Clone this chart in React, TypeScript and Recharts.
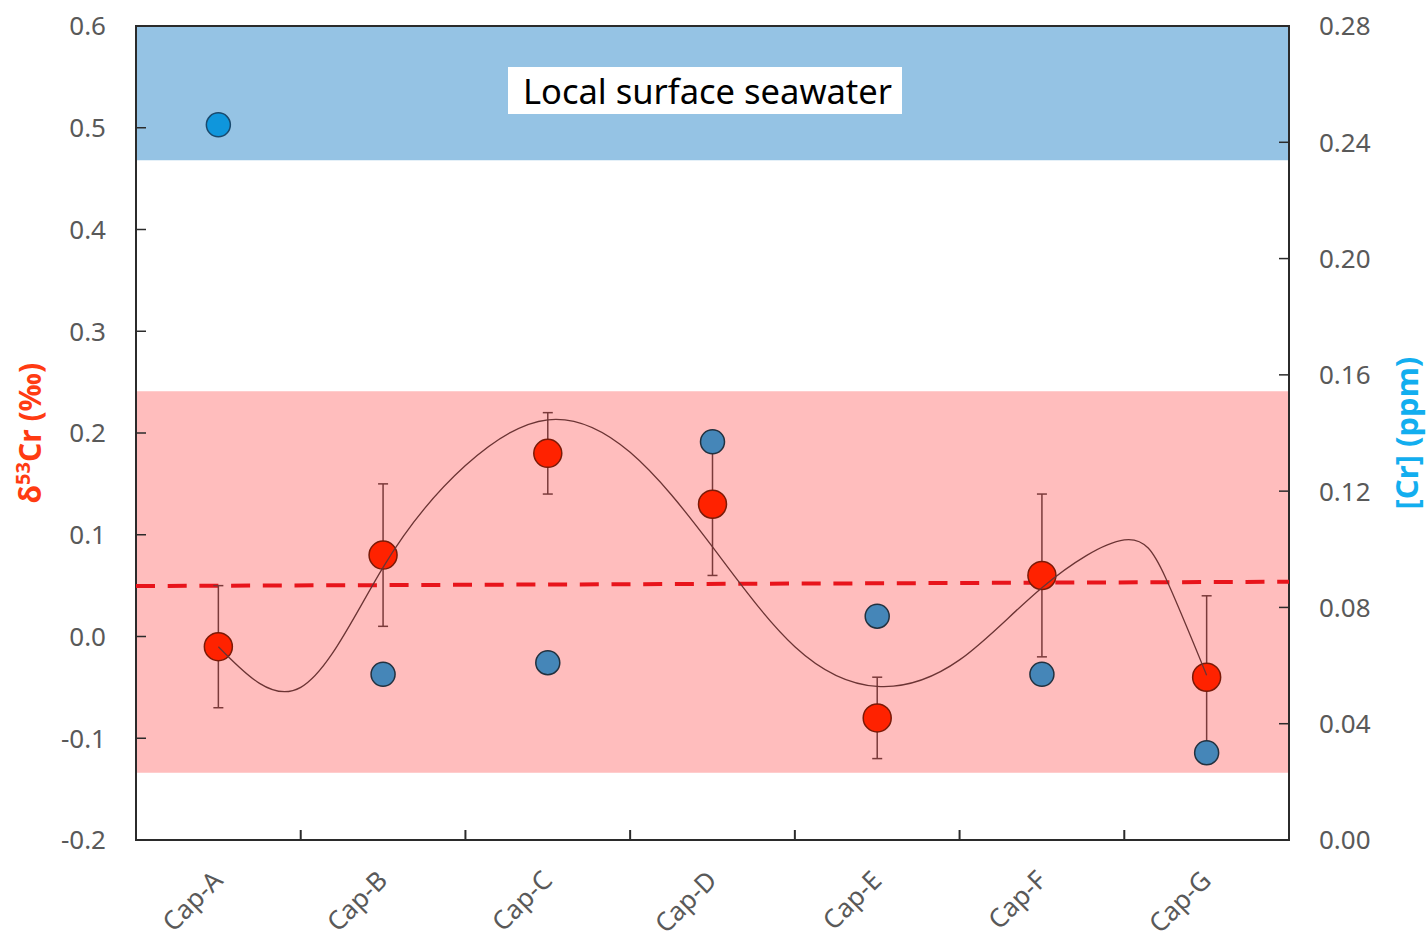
import React from 'react';
import { ComposedChart, Scatter, XAxis, YAxis, ErrorBar, ReferenceArea, ReferenceLine } from 'recharts';

// samples along the section
const samples = ['Cap-A', 'Cap-B', 'Cap-C', 'Cap-D', 'Cap-E', 'Cap-F', 'Cap-G'];
// δ53Cr (‰) with 2SD
const d53Cr = [-0.01, 0.08, 0.18, 0.13, -0.08, 0.06, -0.04];
const d53CrErr = [0.06, 0.07, 0.04, 0.07, 0.04, 0.08, 0.08];
// [Cr] ppm (right axis)
const crPpm = [0.246, 0.057, 0.061, 0.137, 0.077, 0.057, 0.03];
// smoothed trend
const fitPos = [0, 0.5, 1, 1.5, 2, 2.5, 3, 3.5, 4, 4.5, 5, 5.5, 5.75, 6];
const fitVal = [-0.01, -0.05, 0.068, 0.168, 0.213, 0.181, 0.088, -0.01, -0.049, -0.023, 0.048, 0.095, 0.058, -0.038];
// mean line (dashed), left and right ends
const meanLine = [0.0496, 0.0538];
// shaded ranges on the δ53Cr axis
const seawaterBand = [0.468, 0.6];
const sampleBand = [-0.134, 0.241];

const leftTicks = [-0.2, -0.1, 0, 0.1, 0.2, 0.3, 0.4, 0.5, 0.6];
const rightTicks = [0, 0.04, 0.08, 0.12, 0.16, 0.2, 0.24, 0.28];
const xTicks = [0, 0.5, 1, 1.5, 2, 2.5, 3, 3.5, 4, 4.5, 5, 5.5, 6];

const FONT = '"Noto Sans", sans-serif';
const GREY = '#595959';
const BOX = '#2b2b2b';

const redData = samples.map((s, i) => ({ x: i, y: d53Cr[i], err: d53CrErr[i] }));
const blueData = samples.map((s, i) => ({ x: i, y: crPpm[i], idx: i }));
const fitData = fitPos.map((p, i) => ({ x: p, y: fitVal[i] }));

const LeftTick = (p: any) => (
  <g>
    <line x1={p.x} y1={p.y} x2={p.x + 10} y2={p.y} stroke={BOX} strokeWidth={1.5} />
    <text x={p.x - 30} y={p.y} dy="0.36em" textAnchor="end" fontSize={26} fill={GREY} fontFamily={FONT}>
      {Number(p.payload.value).toFixed(1)}
    </text>
  </g>
);

const RightTick = (p: any) => (
  <g>
    <line x1={p.x} y1={p.y} x2={p.x - 10} y2={p.y} stroke={BOX} strokeWidth={1.5} />
    <text x={p.x + 30} y={p.y} dy="0.36em" textAnchor="start" fontSize={26} fill={GREY} fontFamily={FONT}>
      {Number(p.payload.value).toFixed(2)}
    </text>
  </g>
);

const BottomTick = (p: any) => {
  const v = p.payload.value;
  if (!Number.isInteger(v)) {
    return <line x1={p.x} y1={p.y} x2={p.x} y2={p.y - 10} stroke={BOX} strokeWidth={2} />;
  }
  const tx = p.x + 6;
  const ty = p.y + 42;
  return (
    <text x={tx} y={ty} textAnchor="end" fontSize={26} fill={GREY} fontFamily={FONT}
      transform={`rotate(-45, ${tx}, ${ty})`}>
      {samples[v]}
    </text>
  );
};

export default function App() {
  return (
    <div style={{ position: 'absolute', left: 0, top: 0, width: 1427, height: 937 }}>
      <ComposedChart width={1427} height={937} margin={{ top: 26, right: 0, bottom: 0, left: 0 }}>
        <XAxis dataKey="x" type="number" domain={[-0.5, 6.5]} ticks={xTicks} interval={0}
          allowDataOverflow axisLine={false} tickLine={false} tickSize={0} tickMargin={0}
          height={97} tick={<BottomTick />} />
        <YAxis yAxisId="left" type="number" domain={[-0.2, 0.6]} ticks={leftTicks} interval={0}
          allowDataOverflow width={136} axisLine={false} tickLine={false} tickSize={0} tickMargin={0}
          tick={<LeftTick />}
          label={{
            content: (lp: any) => {
              const vb = lp.viewBox;
              const cx = vb.x + 30;
              const cy = vb.y + vb.height / 2;
              return (
                <text x={cx} y={cy} textAnchor="middle" fontSize={30} fontWeight="bold" fill="#FF3B12"
                  fontFamily={FONT} transform={`rotate(-90, ${cx}, ${cy})`} dy="0.35em">
                  δ<tspan fontSize={20} dy={-11}>53</tspan><tspan dy={11}>Cr (‰)</tspan>
                </text>
              );
            },
          }} />
        <YAxis yAxisId="right" orientation="right" type="number" domain={[0, 0.28]} ticks={rightTicks}
          interval={0} allowDataOverflow width={138} axisLine={false} tickLine={false} tickSize={0}
          tickMargin={0} tick={<RightTick />}
          label={{
            content: (lp: any) => {
              const vb = lp.viewBox;
              const cx = vb.x + vb.width - 20;
              const cy = vb.y + vb.height / 2;
              return (
                <text x={cx} y={cy} textAnchor="middle" fontSize={31} fontWeight="bold" fill="#12AEEF"
                  fontFamily={FONT} transform={`rotate(-90, ${cx}, ${cy})`} dy="0.35em">
                  [Cr] (ppm)
                </text>
              );
            },
          }} />

        <ReferenceArea yAxisId="left" x1={-0.5} x2={6.5} y1={seawaterBand[0]} y2={seawaterBand[1]}
          fill="#95C3E4" fillOpacity={1} stroke="none" />
        <ReferenceArea yAxisId="left" x1={-0.5} x2={6.5} y1={sampleBand[0]} y2={sampleBand[1]}
          fill="#FFBDBD" fillOpacity={1} stroke="none" />
        <ReferenceLine yAxisId="left"
          segment={[{ x: -0.5, y: meanLine[0] }, { x: 6.5, y: meanLine[1] }]}
          stroke="#E8141B" strokeWidth={4} strokeDasharray="19 12.7" />

        <Scatter yAxisId="left" data={redData} dataKey="y" isAnimationActive={false}
          shape={(sp: any) => <circle cx={sp.cx} cy={sp.cy} r={14} fill="#FF2200" stroke="#7A1A08" strokeWidth={1.5} />}>
          <ErrorBar dataKey="err" direction="y" width={5} stroke="#7A3A3A" strokeWidth={1.5} />
        </Scatter>
        <Scatter yAxisId="left" data={fitData} dataKey="y" isAnimationActive={false}
          line={{ stroke: '#6B3434', strokeWidth: 1.3 }} lineJointType="natural"
          shape={() => <g />} />
        <Scatter yAxisId="right" data={blueData} dataKey="y" isAnimationActive={false}
          shape={(sp: any) => (
            <circle cx={sp.cx} cy={sp.cy} r={12}
              fill={sp.payload.idx === 0 ? '#0F96DC' : '#4586B8'}
              stroke={sp.payload.idx === 0 ? '#1A4A6E' : '#22313F'} strokeWidth={1.5} />
          )} />

        <ReferenceArea yAxisId="left" x1={-0.5} x2={6.5} y1={-0.2} y2={0.6}
          fill="none" stroke={BOX} strokeWidth={2} />
      </ComposedChart>
      <div style={{
        position: 'absolute', left: 508, top: 67, width: 394, height: 47, background: '#fff',
        fontFamily: FONT, fontSize: 34.5, color: '#000', lineHeight: '47px', paddingLeft: 15,
        boxSizing: 'border-box', whiteSpace: 'nowrap',
      }}>
        Local surface seawater
      </div>
    </div>
  );
}
